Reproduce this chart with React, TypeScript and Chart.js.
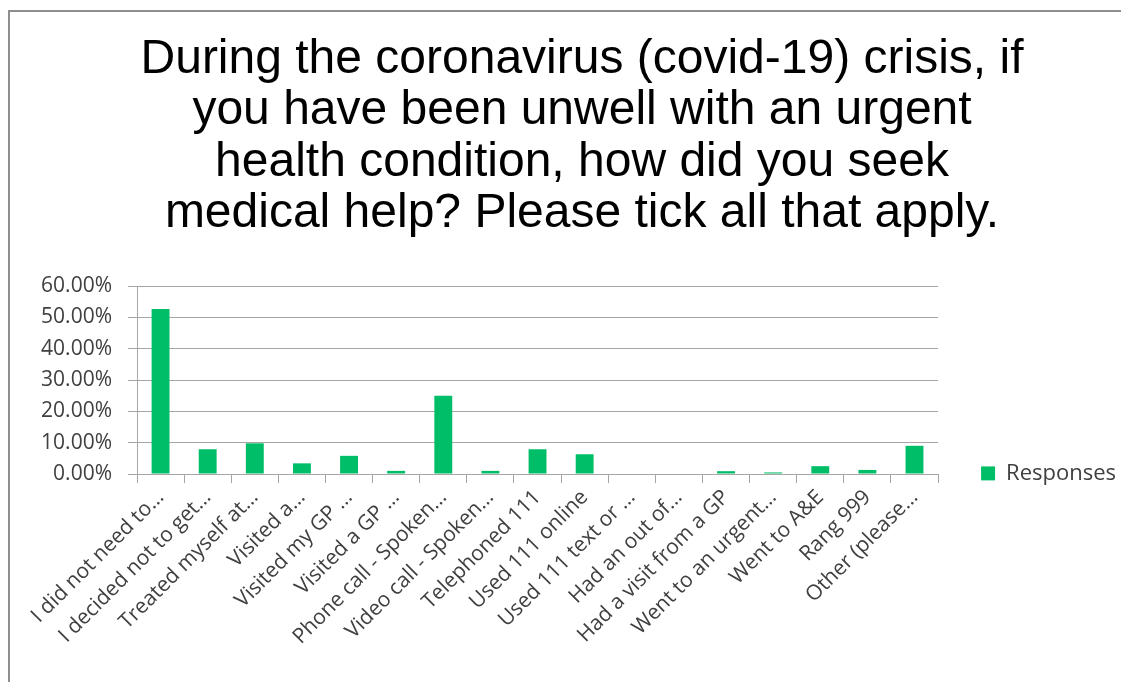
import React, { useEffect, useRef } from 'react';
import { Chart, registerables } from 'chart.js';

Chart.register(...registerables);

const titleLines = [
  'During the coronavirus (covid-19) crisis, if',
  'you have been unwell with an urgent',
  'health condition, how did you seek',
  'medical help? Please tick all that apply.',
];

const categories = [
  'I did not need to…',
  'I decided not to get…',
  'Treated myself at…',
  'Visited a…',
  'Visited my GP …',
  'Visited a GP …',
  'Phone call - Spoken…',
  'Video call - Spoken…',
  'Telephoned 111',
  'Used 111 online',
  'Used 111 text or …',
  'Had an out of…',
  'Had a visit from a GP',
  'Went to an urgent…',
  'Went to A&E',
  'Rang 999',
  'Other (please…',
];

const seriesName = 'Responses';
const responses = [52.7, 7.9, 9.8, 3.4, 5.8, 1.0, 25.0, 1.0, 7.9, 6.3, 0, 0, 0.9, 0.5, 2.5, 1.3, 9.0];

const yMin = 0;
const yMax = 60;
const yStep = 10;

const BAR_COLOR = '#00BE68';
const GRID_COLOR = '#A6A6A6';
const TEXT_COLOR = '#404040';
const FONT = "'Open Sans', 'Noto Sans', sans-serif";

export default function App() {
  const canvasRef = useRef<HTMLCanvasElement | null>(null);

  useEffect(() => {
    const prevOverflow = document.body.style.overflow;
    document.body.style.overflow = 'hidden';
    if (!canvasRef.current) return;
    const chart = new Chart(canvasRef.current, {
      type: 'bar',
      data: {
        labels: categories,
        datasets: [
          {
            label: seriesName,
            data: responses,
            backgroundColor: BAR_COLOR,
            borderWidth: 0,
            categoryPercentage: 1,
            barPercentage: 0.38,
          },
        ],
      },
      options: {
        responsive: false,
        animation: false,
        devicePixelRatio: 1,
        layout: { padding: { left: 28, right: 0, top: 0, bottom: 0 } },
        plugins: {
          title: {
            display: true,
            text: titleLines,
            color: '#000000',
            font: { family: "'Liberation Sans', Arial, sans-serif", size: 48, weight: 'normal', lineHeight: 1.073 },
            padding: { top: 22, bottom: 46 },
          },
          legend: {
            display: true,
            position: 'right',
            align: 'start',
            maxWidth: 188,
            title: { display: true, text: '', padding: { top: 393, bottom: 0 } },
            labels: {
              boxWidth: 14,
              boxHeight: 14,
              padding: 43,
              color: TEXT_COLOR,
              font: { family: FONT, size: 22 },
            },
          },
          tooltip: { enabled: false },
        },
        scales: {
          x: {
            offset: true,
            grid: {
              offset: true,
              drawOnChartArea: false,
              drawTicks: true,
              tickLength: 9,
              color: GRID_COLOR,
            },
            border: { display: true, color: GRID_COLOR, width: 1 },
            ticks: {
              autoSkip: false,
              minRotation: 45,
              maxRotation: 45,
              padding: 2,
              color: TEXT_COLOR,
              font: { family: FONT, size: 21 },
            },
            afterFit: (scale: any) => {
              scale.height = 202;
            },
          },
          y: {
            min: yMin,
            max: yMax,
            grid: {
              drawOnChartArea: true,
              drawTicks: true,
              tickLength: 9,
              color: GRID_COLOR,
            },
            border: { display: true, color: GRID_COLOR, width: 1 },
            ticks: {
              stepSize: yStep,
              padding: 16,
              color: TEXT_COLOR,
              font: { family: FONT, size: 21 },
              callback: (v: any) => Number(v).toFixed(2) + '%',
            },
            afterFit: (scale: any) => {
              scale.width = 99;
            },
          },
        },
      },
    });
    return () => {
      chart.destroy();
      document.body.style.overflow = prevOverflow;
    };
  }, []);

  return (
    <div
      style={{
        position: 'relative',
        top: 2,
        width: 1121,
        height: 674,
        boxSizing: 'border-box',
        borderTop: '2px solid #8E8E8E',
        borderLeft: '2px solid #8E8E8E',
        background: '#ffffff',
      }}
    >
      <canvas ref={canvasRef} width={1116} height={664} style={{ display: 'block' }} />
    </div>
  );
}
